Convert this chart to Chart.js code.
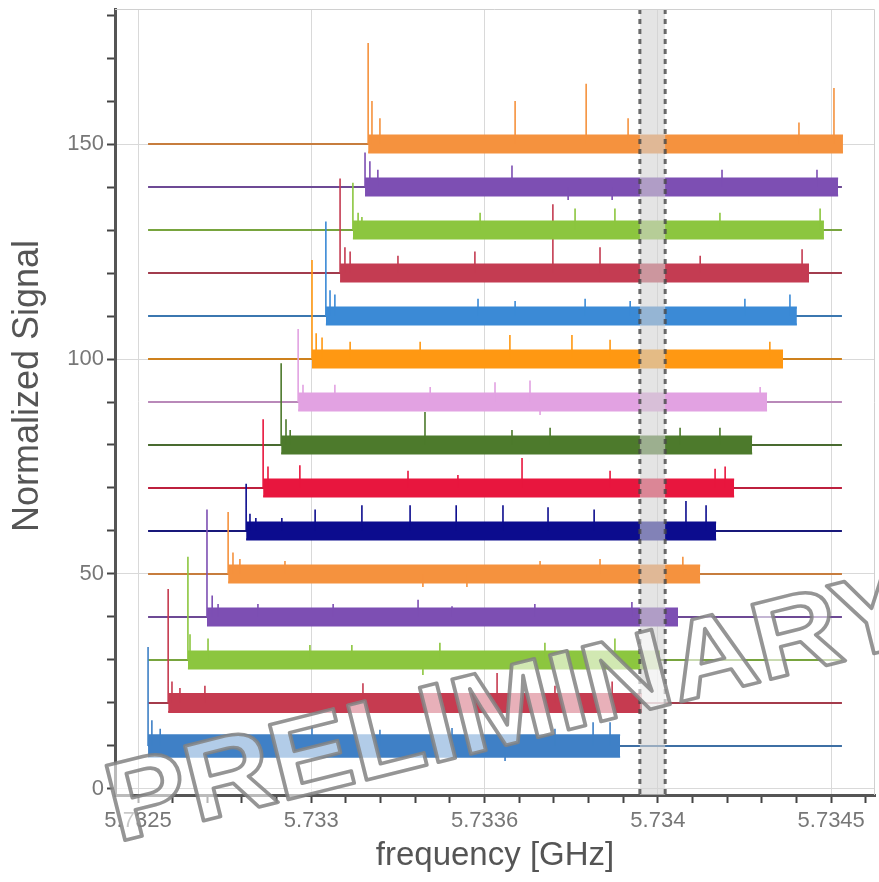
<!DOCTYPE html>
<html>
<head>
<meta charset="utf-8">
<script src="https://cdn.jsdelivr.net/npm/chart.js@4/dist/chart.umd.min.js"></script>
<style>
  html, body { margin: 0; padding: 0; background: #fff; }
  #wrap { width: 879px; height: 882px; position: relative; }
</style>
</head>
<body>
<div id="wrap"><canvas id="c"></canvas></div>
<script>
// Stacked frequency sweeps: each trace is offset by its level (normalized signal units)
const levels     = [10, 20, 30, 40, 50, 60, 70, 80, 90, 100, 110, 120, 130, 140, 150];
// Sweep start / end frequency of each trace [GHz]
const sweepStart = [5.732529, 5.732587, 5.732644, 5.732699, 5.732760, 5.732812, 5.732861, 5.732913,
                    5.732962, 5.733002, 5.733042, 5.733083, 5.733120, 5.733155, 5.733164];
const sweepEnd   = [5.733891, 5.733954, 5.734006, 5.734058, 5.734122, 5.734168, 5.734220, 5.734272,
                    5.734315, 5.734361, 5.734401, 5.734436, 5.734479, 5.734520, 5.734534];
// Height of the onset peak at the start of each sweep
const peakSignal = [33, 46.5, 54, 65, 64.4, 71, 86, 99, 107, 123, 132, 142, 141, 148, 173.5];
// Half-width of the noise floor around each level
const noiseAmp   = [2.5, 2.1, 2.0, 2.0, 2.0, 2.0, 2.0, 2.0, 2.0, 2.0, 2.0, 2.0, 2.0, 2.0, 2.0];
// Spurious lines within each sweep: [frequency GHz, signal]
const spurs = [
  [[5.732540,16],[5.732564,14],[5.733002,14.5],[5.733198,13.8],[5.733406,14.2],[5.733559,6.5],[5.733703,14],[5.733813,15.5],[5.733862,15.5]],
  [[5.732598,25],[5.732621,23.5],[5.732693,24],[5.733149,24.6],[5.733536,27],[5.733703,24],[5.733868,25]],
  [[5.732650,36],[5.732702,35],[5.732996,33.5],[5.733117,33.5],[5.733322,26.5],[5.733371,34],[5.733674,34],[5.733876,35]],
  [[5.732714,45],[5.732731,43],[5.732846,43],[5.733063,43],[5.733308,44],[5.733406,42.5],[5.733645,43],[5.733925,43.5]],
  [[5.732774,55],[5.732794,53.5],[5.732924,53],[5.733322,47],[5.733449,47],[5.733660,53],[5.733833,53.5],[5.734072,54]],
  [[5.732823,64],[5.732840,63],[5.732915,63],[5.733011,65],[5.733146,66],[5.733285,66],[5.733418,66],[5.733553,66],[5.733683,65.5],[5.733816,65],[5.734081,67],[5.734139,66]],
  [[5.732875,75],[5.732967,75.3],[5.733279,74],[5.733423,73],[5.733608,77],[5.733862,74],[5.734165,74.5],[5.734194,75]],
  [[5.732927,86],[5.732939,83.5],[5.733328,87.7],[5.733579,83.5],[5.733689,84],[5.734064,84],[5.734179,84]],
  [[5.732976,94],[5.733068,94],[5.733343,93.5],[5.733530,94.6],[5.733631,95],[5.733660,87],[5.734295,93.5]],
  [[5.733014,106],[5.733031,105],[5.733112,104],[5.733314,104],[5.733573,105.6],[5.733752,105.6],[5.733862,104.5],[5.734323,104]],
  [[5.733054,116],[5.733068,115],[5.733481,114],[5.733588,113.5],[5.733790,114],[5.733920,113.5],[5.734251,114],[5.734381,115]],
  [[5.733097,126],[5.733112,125],[5.733250,124],[5.733472,125],[5.733697,136],[5.733833,126],[5.734122,124],[5.734416,125.5]],
  [[5.733135,134],[5.733146,133],[5.733487,134],[5.733761,135],[5.733876,135],[5.734179,134],[5.734468,135]],
  [[5.733169,146],[5.733192,144],[5.733579,145],[5.733741,137],[5.733868,137],[5.734185,144],[5.734459,144]],
  [[5.733175,160],[5.733198,156],[5.733588,160],[5.733793,164],[5.733914,156],[5.734407,155],[5.734508,163]]
];
// Frequency span of the reference baselines and the highlighted window [GHz]
const baselineSpan = [5.732529, 5.734531];
const windowBand   = [5.733948, 5.734021];

const xTickValues = [5.7325, 5.733, 5.7335, 5.734, 5.7345];
const xTickLabels = ['5.7325', '5.733', '5.7336', '5.734', '5.7345'];
const yTickValues = [0, 50, 100, 150];
const yTickLabels = ['0', '50', '100', '150'];

const palette = ['#3f80c6', '#c63b50', '#8cc63f', '#7d4fb3', '#f5923e', '#0c0c8e', '#e8163e', '#4d7a2c',
                 '#e2a2e2', '#ff9812', '#3b8ad6', '#c43c52', '#8cc63f', '#7d4fb3', '#f5923e'];

function shade(hex, k) {
  const n = parseInt(hex.slice(1), 16);
  const r = (n >> 16) & 255, g = (n >> 8) & 255, b = n & 255;
  const m = v => Math.round(v * (1 - k) + 60 * k);
  return `rgb(${m(r)},${m(g)},${m(b)})`;
}

const FONT = "'Liberation Sans', Arial, sans-serif";
const layers = [];

levels.forEach((lv, i) => {
  const col = palette[i];
  // thin reference baseline across the whole span
  layers.push({
    data: [{x: baselineSpan[0], y: lv}, {x: baselineSpan[1], y: lv}],
    borderColor: shade(col, 0.25), borderWidth: 2, pointRadius: 0, fill: false
  });
});
levels.forEach((lv, i) => {
  const col = palette[i];
  // noise floor of the sweep: filled between upper and lower edge
  layers.push({
    data: [{x: sweepStart[i], y: lv + noiseAmp[i]}, {x: sweepEnd[i], y: lv + noiseAmp[i]}],
    borderColor: col, borderWidth: 2, pointRadius: 0, fill: false
  });
  layers.push({
    data: [{x: sweepStart[i], y: lv - noiseAmp[i]}, {x: sweepEnd[i], y: lv - noiseAmp[i]}],
    borderColor: col, borderWidth: 2, pointRadius: 0, backgroundColor: col, fill: '-1'
  });
  // onset peak and spurious lines
  const pts = [{x: sweepStart[i], y: lv}, {x: sweepStart[i], y: peakSignal[i]}, {x: sweepStart[i], y: null}];
  spurs[i].forEach(([f, v]) => {
    pts.push({x: f, y: lv}, {x: f, y: v}, {x: f, y: null});
  });
  layers.push({
    data: pts, borderColor: col, borderWidth: 1.6, pointRadius: 0, fill: false, spanGaps: false
  });
});
const total = layers.length;
layers.forEach((d, k) => { d.order = total - k; d.tension = 0; });

// highlighted window, plot frame, y title and watermark
const overlay = {
  id: 'overlay',
  afterDatasetsDraw(chart) {
    const {ctx, chartArea: a, scales: {x}} = chart;
    const x0 = x.getPixelForValue(windowBand[0]);
    const x1 = x.getPixelForValue(windowBand[1]);
    ctx.save();
    ctx.fillStyle = 'rgba(210,210,210,0.6)';
    ctx.fillRect(x0, a.top, x1 - x0, a.bottom - a.top);
    ctx.strokeStyle = 'rgba(70,70,70,0.8)';
    ctx.lineWidth = 3;
    ctx.setLineDash([5, 5]);
    [x0, x1].forEach(px => {
      ctx.beginPath(); ctx.moveTo(px, a.top); ctx.lineTo(px, a.bottom); ctx.stroke();
    });
    ctx.setLineDash([]);
    ctx.strokeStyle = '#d0d0d0';
    ctx.lineWidth = 1;
    ctx.beginPath();
    ctx.moveTo(a.left, a.top + 0.5); ctx.lineTo(a.right - 0.5, a.top + 0.5); ctx.lineTo(a.right - 0.5, a.bottom);
    ctx.stroke();
    ctx.restore();
  },
  afterDraw(chart) {
    const ctx = chart.ctx;
    ctx.save();
    ctx.translate(28, 386);
    ctx.rotate(-Math.PI / 2);
    ctx.font = `36px ${FONT}`;
    ctx.fillStyle = '#555';
    ctx.textAlign = 'center';
    ctx.textBaseline = 'middle';
    ctx.fillText('Normalized Signal', 0, 0);
    ctx.restore();

    ctx.save();
    ctx.translate(512, 712);
    ctx.rotate(-14 * Math.PI / 180);
    ctx.scale(1.08, 1);
    ctx.font = `bold 112px ${FONT}`;
    ctx.textAlign = 'center';
    ctx.textBaseline = 'middle';
    ctx.fillStyle = 'rgba(255,255,255,0.6)';
    ctx.fillText('PRELIMINARY', 0, 0);
    ctx.strokeStyle = 'rgba(130,130,130,0.85)';
    ctx.lineWidth = 3.5;
    ctx.lineJoin = 'round';
    ctx.strokeText('PRELIMINARY', 0, 0);
    ctx.restore();
  }
};

const isMajorX = v => xTickValues.some(t => Math.abs(t - v) < 1e-9);
const labelFont = on => ({ family: FONT, size: on ? 22 : 1 });

new Chart(document.getElementById('c'), {
  type: 'line',
  data: { datasets: layers },
  plugins: [overlay],
  options: {
    responsive: true,
    maintainAspectRatio: false,
    animation: false,
    events: [],
    layout: { padding: { top: 9, right: 4, left: 0, bottom: 0 } },
    plugins: { legend: { display: false }, tooltip: { enabled: false } },
    scales: {
      x: {
        type: 'linear',
        min: 5.7324336, max: 5.7346264,
        afterFit: s => { s.height = 87; },
        afterBuildTicks: s => {
          const t = [];
          for (let k = 0; k <= 21; k++) t.push({value: +(5.7325 + k * 0.0001).toFixed(4)});
          s.ticks = t;
        },
        ticks: {
          autoSkip: false, maxRotation: 0, padding: 5, color: '#777',
          font: c => labelFont(c.tick && isMajorX(c.tick.value)),
          callback: v => { const k = xTickValues.findIndex(t => Math.abs(t - v) < 1e-9); return k >= 0 ? xTickLabels[k] : ''; }
        },
        grid: {
          color: c => (c.tick && isMajorX(c.tick.value)) ? '#d9d9d9' : 'rgba(0,0,0,0)',
          tickColor: '#444', tickLength: 8, tickWidth: 2, lineWidth: 1
        },
        border: { color: '#555', width: 3 },
        title: { display: true, text: 'frequency [GHz]', color: '#555', font: { family: FONT, size: 33 }, padding: { top: 0, bottom: 6 } }
      },
      y: {
        type: 'linear',
        min: -1.4, max: 181.4,
        afterFit: s => { s.width = 115; },
        afterBuildTicks: s => {
          const t = [];
          for (let v = 0; v <= 180; v += 10) t.push({value: v});
          s.ticks = t;
        },
        ticks: {
          autoSkip: false, padding: 3, color: '#777',
          font: c => labelFont(c.tick && yTickValues.includes(c.tick.value)),
          callback: v => { const k = yTickValues.indexOf(v); return k >= 0 ? yTickLabels[k] : ''; }
        },
        grid: {
          color: c => (c.tick && yTickValues.includes(c.tick.value)) ? '#d9d9d9' : 'rgba(0,0,0,0)',
          tickColor: '#444', tickLength: 8, tickWidth: 2, lineWidth: 1
        },
        border: { color: '#555', width: 3 },
        title: { display: false }
      }
    }
  }
});
</script>
</body>
</html>
